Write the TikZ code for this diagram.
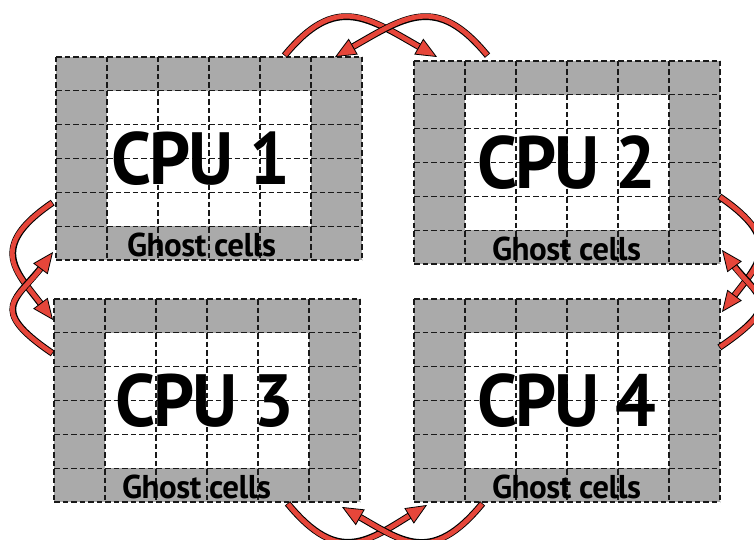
\documentclass[tikz,border=0pt]{standalone}
\usepackage{fontspec}
\setmainfont{PT Sans}
\newfontfamily\cpufont{PT Sans}[FakeStretch=0.97,LetterSpace=-3]
\newfontfamily\ghostfont{PT Sans}[LetterSpace=-1.5]
\usetikzlibrary{arrows.meta}
\definecolor{ghostgray}{RGB}{170,170,170}
\definecolor{arrowred}{RGB}{230,70,58}
\tikzset{
  gridline/.style={draw=black!90, line width=1.15pt, dash pattern=on 5.5pt off 3pt},
  cpulabel/.style={font=\cpufont\bfseries\fontsize{74}{74}\selectfont, inner sep=0pt, anchor=base},
  ghostlabel/.style={font=\ghostfont\bfseries\fontsize{33}{33}\selectfont, inner sep=0pt, anchor=base},
  arrowback/.style={draw=black, line width=6.8pt, shorten >=14pt, shorten <=-0.8pt},
  arrowfront/.style={draw=arrowred, line width=4.8pt,
    -{Triangle[length=21pt,width=18pt,color=black,fill=arrowred,line width=0.8pt]}},
}
\newcommand{\ghostarrow}[1]{\draw[arrowback] #1; \draw[arrowfront] #1;}
\newcommand{\cpublock}[6]{%
  \begin{scope}[shift={(#2,#3)}]
    \fill[ghostgray] (0,0) rectangle (306,203);
    \fill[white] (51,33.833) rectangle (255,169.167);
    \foreach \i in {0,...,6} \draw[gridline] (\i*51,0) -- (\i*51,203);
    \foreach \j in {0,...,6} \draw[gridline] (0,\j*33.833) -- (306,\j*33.833);
    \node[cpulabel] (#1text) at (153+#5,127.5) {CPU #4};
    \node[ghostlabel] (#1ghost) at (153+#6,199) {Ghost cells};
  \end{scope}}
\begin{document}
\begin{tikzpicture}[x=1pt,y=-1pt]
\useasboundingbox[fill=white] (0,0) rectangle (754,540);
\cpublock{cpu1}{56}{57}{1}{-8}{-7.5}
\cpublock{cpu2}{414}{61}{2}{0}{-0.5}
\cpublock{cpu3}{54}{299}{3}{-2}{-10.5}
\cpublock{cpu4}{414}{299}{4}{0}{-0.5}
% arrow end points
\coordinate (a1s) at (285,55);  \coordinate (a1e) at (437,57);
\coordinate (a2s) at (487,55);  \coordinate (a2e) at (335,57);
\coordinate (b1s) at (288,504); \coordinate (b1e) at (427,505);
\coordinate (b2s) at (482,504); \coordinate (b2e) at (342,507);
\coordinate (l1s) at (52,203);  \coordinate (l1e) at (53,320);
\coordinate (l2s) at (52,353);  \coordinate (l2e) at (53,252);
\coordinate (r1s) at (720,197); \coordinate (r1e) at (722,312);
\coordinate (r2s) at (720,347); \coordinate (r2e) at (722,250);
% top
\ghostarrow{(a1s) .. controls (336,-7) and (367,17) .. (a1e)}
\ghostarrow{(a2s) .. controls (436,-7) and (405,17) .. (a2e)}
% bottom
\ghostarrow{(b1s) .. controls (339,566) and (368,541) .. (b1e)}
\ghostarrow{(b2s) .. controls (431,566) and (402,541) .. (b2e)}
% left
\ghostarrow{(l1s) .. controls (-14,248) and (17,272) .. (l1e)}
\ghostarrow{(l2s) .. controls (-14,308) and (17,300) .. (l2e)}
% right
\ghostarrow{(r1s) .. controls (786,242) and (758,264) .. (r1e)}
\ghostarrow{(r2s) .. controls (786,302) and (758,298) .. (r2e)}
\end{tikzpicture}
\end{document}
